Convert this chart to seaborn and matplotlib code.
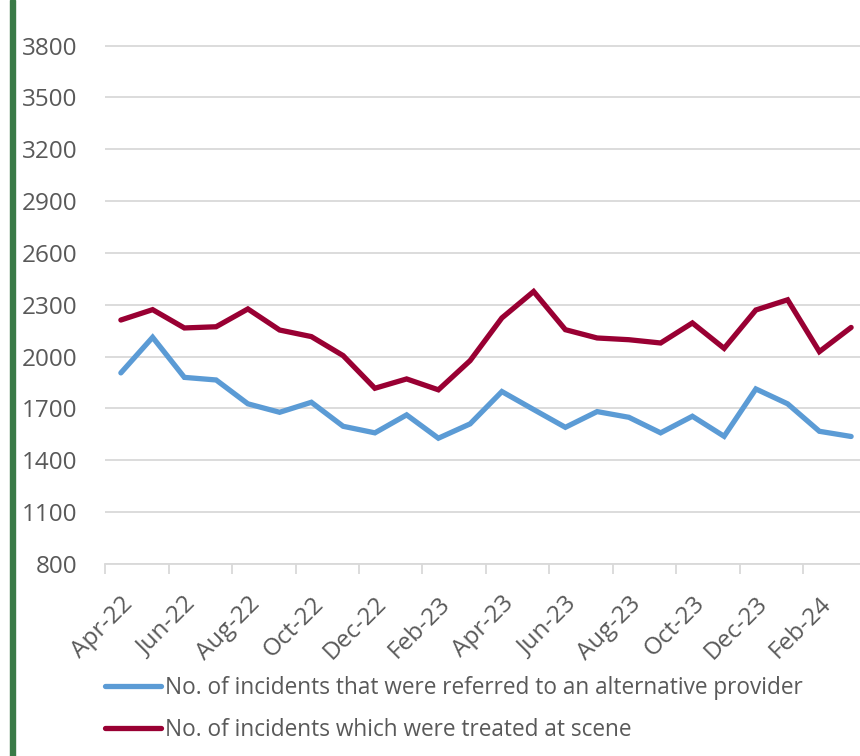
import matplotlib
matplotlib.use("Agg")
import matplotlib.pyplot as plt
import matplotlib.patches as mpatches
import numpy as np
import pandas as pd
import seaborn as sns

# Monthly figures, April 2022 to March 2024
months = ["Apr-22", "May-22", "Jun-22", "Jul-22", "Aug-22", "Sep-22",
          "Oct-22", "Nov-22", "Dec-22", "Jan-23", "Feb-23", "Mar-23",
          "Apr-23", "May-23", "Jun-23", "Jul-23", "Aug-23", "Sep-23",
          "Oct-23", "Nov-23", "Dec-23", "Jan-24", "Feb-24", "Mar-24"]

referred = [1906, 2112, 1880, 1865, 1727, 1678, 1736, 1597, 1559, 1663,
            1528, 1611, 1798, 1694, 1591, 1682, 1649, 1559, 1655, 1539,
            1813, 1727, 1568, 1538]

treated = [2212, 2272, 2166, 2173, 2276, 2154, 2116, 2006, 1817, 1871,
           1808, 1977, 2224, 2377, 2156, 2108, 2098, 2079, 2195, 2048,
           2270, 2329, 2029, 2169]

label_referred = "No. of incidents that were referred to an alternative provider"
label_treated = "No. of incidents which were treated at scene"

y_ticks = [800, 1100, 1400, 1700, 2000, 2300, 2600, 2900, 3200, 3500, 3800]

df = pd.DataFrame({
    "idx": list(range(len(months))) * 2,
    "value": referred + treated,
    "series": [label_referred] * len(months) + [label_treated] * len(months),
})

sns.set_style("white")
plt.rcParams["font.family"] = ["Open Sans", "DejaVu Sans"]

W, H = 860, 756
fig = plt.figure(figsize=(W / 100, H / 100), dpi=100)
ax = fig.add_axes([105 / W, (H - 564) / H, 762 / W, 564 / H])

palette = {label_referred: "#5b9bd5", label_treated: "#990033"}
sns.lineplot(data=df, x="idx", y="value", hue="series", palette=palette,
             linewidth=3.8, ax=ax, legend=False, solid_capstyle="round",
             solid_joinstyle="miter")

ax.set_xlim(-0.5, len(months) - 0.5)
ax.set_ylim(800, 4064)
ax.set_xlabel("")
ax.set_ylabel("")

# gridlines
ax.set_yticks(y_ticks)
ax.yaxis.grid(True, color="#d9d9d9", linewidth=1.3)
ax.xaxis.grid(False)
ax.set_axisbelow(True)
ax.tick_params(axis="y", length=0, pad=20, labelsize=17.5, labelcolor="#595959")

# category labels every two months, tick marks on the boundaries
label_pos = list(range(0, len(months), 2))
ax.set_xticks(label_pos)
ax.set_xticklabels([months[i] for i in label_pos], rotation=45, ha="right",
                   rotation_mode="anchor")
ax.tick_params(axis="x", which="major", length=0, pad=20, labelsize=17.5,
               labelcolor="#595959")
ax.set_xticks(np.arange(-0.5, len(months) - 0.5, 2), minor=True)
ax.tick_params(axis="x", which="minor", bottom=True, length=7.5, width=1.3,
               color="#d9d9d9")

for s in ["top", "right", "left"]:
    ax.spines[s].set_visible(False)
ax.spines["bottom"].set_color("#d9d9d9")
ax.spines["bottom"].set_linewidth(1.3)

# legend below the axis
handles = [plt.Line2D([], [], color="#5b9bd5", linewidth=3.8, solid_capstyle="round"),
           plt.Line2D([], [], color="#990033", linewidth=3.8, solid_capstyle="round")]
fig.legend(handles, [label_referred, label_treated], loc="upper left",
           bbox_to_anchor=(96 / W, 1 - 667 / H), frameon=False,
           fontsize=16.3, labelcolor="#595959", handlelength=2.45,
           handletextpad=0.2, labelspacing=0.78, borderaxespad=0)

# green bar at the left edge
fig.patches.append(mpatches.Rectangle((10 / W, 0), 5 / W, 1, transform=fig.transFigure,
                                      color="#3a7a47", zorder=5))

fig.savefig("out.png", dpi=100)
